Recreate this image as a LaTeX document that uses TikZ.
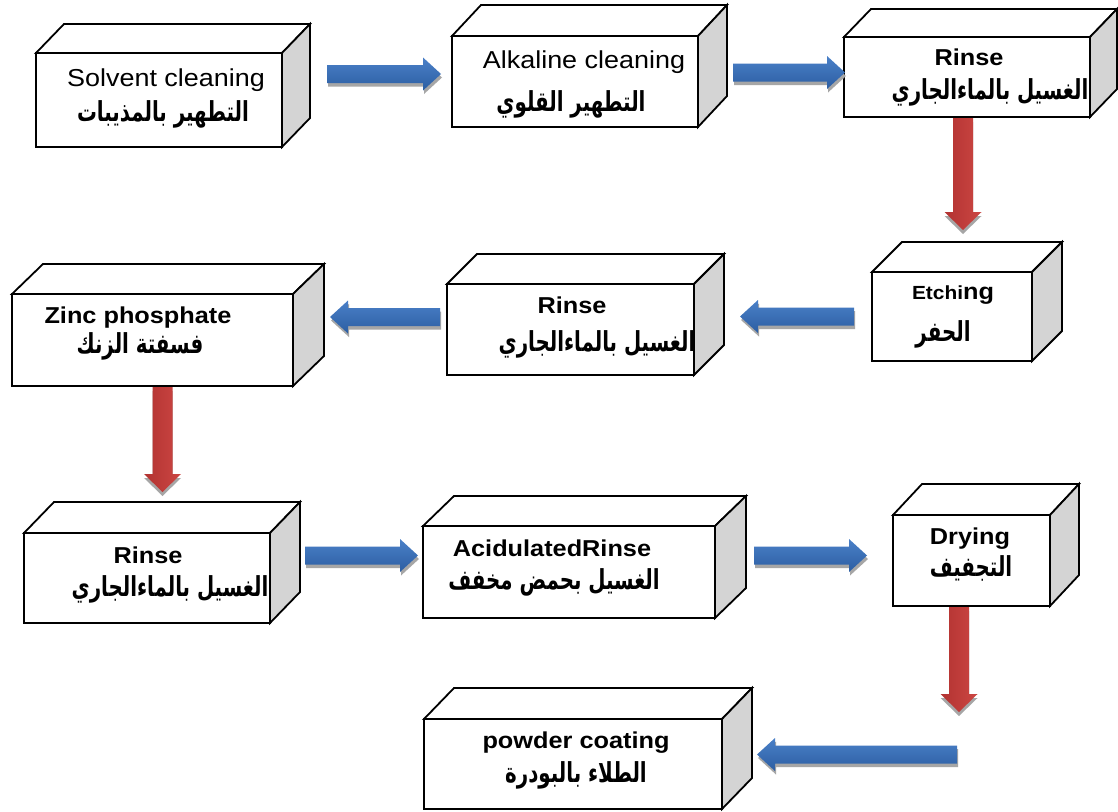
\documentclass[tikz,border=0pt]{standalone}
\usepackage{fontspec}
\setmainfont{Liberation Sans}
\newfontfamily\enfont[FakeStretch=1.1]{Liberation Sans}
\newfontfamily\arfont[Script=Arabic, FakeStretch=0.72]{DejaVu Sans}
\TeXXeTstate=1
\usetikzlibrary{calc}
\definecolor{bluetop}{HTML}{4A80C8}
\definecolor{bluebot}{HTML}{2C5EA2}
\definecolor{redl}{HTML}{B23331}
\definecolor{redr}{HTML}{CC4643}
\definecolor{shadowgray}{HTML}{A6A6A6}
\definecolor{sidegray}{HTML}{D4D4D4}
\tikzset{
  boxline/.style={draw=black, line width=1.8pt, line join=miter},
  front/.style={boxline, fill=white, inner sep=0pt, outer sep=0pt, anchor=north west},
  topface/.style={boxline, fill=white},
  sideface/.style={boxline, fill=sidegray},
  entext/.style={font=\enfont\fontsize{24.5}{28}\selectfont, inner sep=0pt, anchor=base},
  enbold/.style={font=\enfont\bfseries\fontsize{23}{28}\selectfont, inner sep=0pt, anchor=base},
  artext/.style={font=\arfont\bfseries\fontsize{27.5}{32}\selectfont, inner sep=0pt, anchor=base},
  ashadow/.style={fill=shadowgray},
  bluearrow/.style={top color=bluetop, bottom color=bluebot},
  redarrow/.style={left color=redl, right color=redr},
}
% cube: name, x1, y1, x2, y2, dx, dy
\newcommand\cube[7]{%
  \node[front, minimum width={(#4-#2)*1pt}, minimum height={(#5-#3)*1pt}] (#1) at (#2,#3) {};
  \draw[topface] (#1.north west) -- ++(#6,-#7) -- ($(#1.north east)+(#6,-#7)$) -- (#1.north east) -- cycle;
  \draw[sideface] (#1.north east) -- ++(#6,-#7) -- ($(#1.south east)+(#6,-#7)$) -- (#1.south east) -- cycle;
}
% arrow outlines: start, tip, offset x, offset y
\newcommand\rpath[4]{($(#1)+(#3,#4-9)$) -- ($(#2)+(#3-18,#4-9)$) -- ($(#2)+(#3-18,#4-16.5)$) -- ($(#2)+(#3,#4)$) -- ($(#2)+(#3-18,#4+16.5)$) -- ($(#2)+(#3-18,#4+9)$) -- ($(#1)+(#3,#4+9)$) -- cycle}
\newcommand\lpath[4]{($(#1)+(#3,#4-9)$) -- ($(#2)+(#3+18,#4-9)$) -- ($(#2)+(#3+18,#4-16.5)$) -- ($(#2)+(#3,#4)$) -- ($(#2)+(#3+18,#4+16.5)$) -- ($(#2)+(#3+18,#4+9)$) -- ($(#1)+(#3,#4+9)$) -- cycle}
\newcommand\dpath[4]{($(#1)+(#3-10,#4)$) -- ($(#2)+(#3-10,#4-18)$) -- ($(#2)+(#3-18.5,#4-18)$) -- ($(#2)+(#3,#4)$) -- ($(#2)+(#3+18.5,#4-18)$) -- ($(#2)+(#3+10,#4-18)$) -- ($(#1)+(#3+10,#4)$) -- cycle}
\newcommand\arrR[2]{\fill[ashadow] \rpath{#1}{#2}{1}{3.5}; \shade[bluearrow] \rpath{#1}{#2}{0}{0};}
\newcommand\arrL[2]{\fill[ashadow] \lpath{#1}{#2}{1}{3.5}; \shade[bluearrow] \lpath{#1}{#2}{0}{0};}
\newcommand\arrD[2]{\fill[ashadow] \dpath{#1}{#2}{0}{4}; \shade[redarrow] \dpath{#1}{#2}{0}{0};}
\newcommand\AR[1]{\beginR #1\endR}
\begin{document}
\begin{tikzpicture}[x=1pt, y=-1pt]
\useasboundingbox (0,0) rectangle (1118,811);
\fill[white] (0,0) rectangle (1118,811);

% boxes
\cube{b1}{36}{53}{282}{147}{28}{29}
\cube{b2}{452}{36}{698}{127}{29}{31}
\cube{b3}{844}{37}{1090}{117}{27}{28}
\cube{b4}{872}{272}{1032}{361}{30}{30}
\cube{b5}{447}{284}{694}{375}{30}{30}
\cube{b6}{12}{294}{293}{386}{31}{30}
\cube{b7}{24}{533}{270}{623}{30}{31}
\cube{b8}{423}{526}{715}{618}{31}{30}
\cube{b9}{893}{515}{1050}{606}{29}{31}
\cube{b10}{424}{719}{722}{809}{30}{31}

% texts
\node[entext] (t1) at (166,86) {Solvent cleaning};
\node[artext] (a1) at (163,121) {\AR{التطهير بالمذيبات}};
\node[entext] (t2) at (584,68) {Alkaline cleaning};
\node[artext] (a2) at (571,111) {\AR{التطهير القلوي}};
\node[enbold] (t3) at (969,65) {Rinse};
\node[artext] (a3) at (990,99) {\AR{الغسيل بالماءالجاري}};
\node[enbold] (t4) at (953,299) {{\fontsize{19}{22}\selectfont Etchi}ng};
\node[artext] (a4) at (943,341) {\AR{الحفر}};
\node[enbold] (t5) at (572,313) {Rinse};
\node[artext] (a5) at (597,351) {\AR{الغسيل بالماءالجاري}};
\node[enbold] (t6) at (138,323) {Zinc phosphate};
\node[artext] (a6) at (140,353) {\AR{فسفتة الزنك}};
\node[enbold] (t7) at (148,563) {Rinse};
\node[artext] (a7) at (170,596) {\AR{الغسيل بالماءالجاري}};
\node[enbold] (t8) at (552,556) {AcidulatedRinse};
\node[artext] (a8) at (554,589) {\AR{الغسيل بحمض مخفف}};
\node[enbold] (t9) at (970,544) {Drying};
\node[artext] (a9) at (971,576) {\AR{التجفيف}};
\node[enbold] (t10) at (576,748) {powder coating};
\node[artext] (a10) at (576,782) {\AR{الطلاء بالبودرة}};

% arrow end points
\coordinate (p1s) at (327,74);   \coordinate (p1e) at (441,74);
\coordinate (p2s) at (733,72.5); \coordinate (p2e) at (845,72.5);
\coordinate (q1s) at (963,118);  \coordinate (q1e) at (963,230);
\coordinate (p3s) at (854,316.5); \coordinate (p3e) at (740,316.5);
\coordinate (p4s) at (440,317);  \coordinate (p4e) at (330,317);
\coordinate (q2s) at (162.5,387); \coordinate (q2e) at (162.5,492);
\coordinate (p5s) at (305,555.5); \coordinate (p5e) at (418,555.5);
\coordinate (p6s) at (754,555.5); \coordinate (p6e) at (867,555.5);
\coordinate (q3s) at (959,607);  \coordinate (q3e) at (959,712);
\coordinate (p7s) at (957,754.5); \coordinate (p7e) at (757,754.5);

\arrR{p1s}{p1e}
\arrR{p2s}{p2e}
\arrD{q1s}{q1e}
\arrL{p3s}{p3e}
\arrL{p4s}{p4e}
\arrD{q2s}{q2e}
\arrR{p5s}{p5e}
\arrR{p6s}{p6e}
\arrD{q3s}{q3e}
\arrL{p7s}{p7e}
\end{tikzpicture}
\end{document}
